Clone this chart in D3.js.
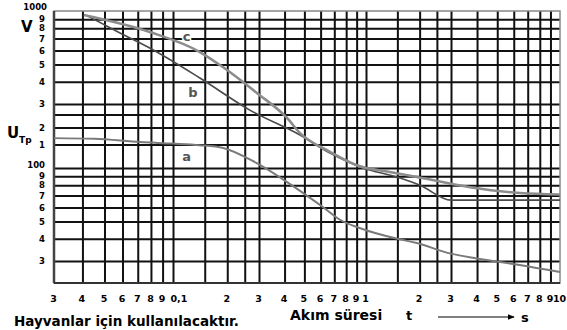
<!DOCTYPE html>
<html>
<head>
<meta charset="utf-8">
<script src="https://cdn.jsdelivr.net/npm/d3@7"></script>
<style>
  body { margin: 0; background: #fff; }
  text { font-family: "DejaVu Sans", sans-serif; font-weight: bold; }
  .name { paint-order: stroke; stroke: #fff; stroke-width: 3px; }
</style>
</head>
<body>
<div id="chart"></div>
<script>
// the printed grid is a slightly stretched log grid, so the scales are piecewise log
var xBreaks = [0.03, 0.1, 0.3, 1, 3, 10];
var yBreaks = [1000, 300, 100, 30];

var xGrid = [0.04, 0.05, 0.06, 0.07, 0.08, 0.09, 0.1, 0.15, 0.2, 0.25, 0.3, 0.4, 0.5, 0.6, 0.7, 0.8, 0.9,
             1, 1.5, 2, 2.5, 3, 4, 5, 6, 7, 8, 9];
var yGrid = [900, 800, 700, 600, 500, 400, 300, 250, 200, 150, 100, 90, 80, 70, 60, 50, 40, 30];

var xTicks = [0.03, 0.04, 0.05, 0.06, 0.07, 0.08, 0.09, 0.1, 0.2, 0.3, 0.4, 0.5, 0.6, 0.7, 0.8, 0.9,
              1, 2, 3, 4, 5, 6, 7, 8, 9, 10];
var xTickLabels = ["3", "4", "5", "6", "7", "8", "9", "0,1", "2", "3", "4", "5", "6", "7", "8", "9",
                   "1", "2", "3", "4", "5", "6", "7", "8", "9", "10"];
var yTicks = [1000, 900, 800, 700, 600, 500, 400, 300, 200, 150, 100, 90, 80, 70, 60, 50, 40, 30];
var yTickLabels = ["1000", "9", "8", "7", "6", "5", "4", "3", "2", "1", "100", "9", "8", "7", "6", "5", "4", "3"];

// curves: time (s) and touch voltage (V)
var aTime = [0.03, 0.045, 0.072, 0.1, 0.14, 0.19, 0.29, 0.42, 0.62, 0.75, 0.93, 1.5, 1.9, 3, 4, 6.4, 10];
var aVolt = [167, 165, 156, 152, 148, 141, 109, 82, 60, 51, 46, 40, 38, 33, 31, 28.5, 26];
var bTime = [0.042, 0.0585, 0.079, 0.141, 0.267, 0.476, 0.667, 0.967, 1.49, 2.01, 3, 10];
var bVolt = [940, 752, 619, 420, 270, 176, 129, 100, 89, 80, 66, 66];
var cTime = [0.0406, 0.079, 0.141, 0.189, 0.292, 0.411, 0.476, 0.667, 0.9, 1.36, 1.93, 3.7, 6.43, 10];
var cVolt = [950, 762, 588, 484, 346, 236, 182, 132, 105, 95, 89, 78, 72.3, 71];

var W = 567, H = 330;
var pLeft = 54, pRight = 560, pTop = 11, pBottom = 283;

var svg = d3.select("#chart").append("svg").attr("width", W).attr("height", H);

var x = d3.scaleLog().domain(xBreaks).range([54, 173, 259, 366, 451, 560]);
var y = d3.scaleLog().domain(yBreaks).range([11, 104, 168, 261]);

// grid
svg.append("g")
  .attr("transform", "translate(0," + pBottom + ")")
  .call(d3.axisBottom(x).tickValues(xGrid).tickSize(-(pBottom - pTop)).tickFormat(""))
  .call(function (g) { g.select(".domain").remove(); })
  .selectAll("line").attr("stroke", "#111").attr("stroke-width", 2);

svg.append("g")
  .attr("transform", "translate(" + pLeft + ",0)")
  .call(d3.axisLeft(y).tickValues(yGrid).tickSize(-(pRight - pLeft)).tickFormat(""))
  .call(function (g) { g.select(".domain").remove(); })
  .selectAll("line").attr("stroke", "#111").attr("stroke-width", 2);

// frame
svg.append("rect").attr("x", pLeft).attr("y", pTop).attr("width", pRight - pLeft).attr("height", pBottom - pTop)
  .attr("fill", "none").attr("stroke", "#888").attr("stroke-width", 1.5);
svg.append("line").attr("x1", pLeft).attr("x2", pLeft).attr("y1", pTop).attr("y2", pBottom)
  .attr("stroke", "#444").attr("stroke-width", 2.5);
svg.append("line").attr("x1", pLeft).attr("x2", pRight).attr("y1", pBottom).attr("y2", pBottom)
  .attr("stroke", "#333").attr("stroke-width", 2);

// tick labels
var xAxis = svg.append("g")
  .attr("transform", "translate(-1," + pBottom + ")")
  .call(d3.axisBottom(x).tickValues(xTicks).tickSize(0).tickPadding(12)
    .tickFormat(function (d, i) { return xTickLabels[i]; }));
xAxis.select(".domain").remove();
xAxis.selectAll("text").style("font-size", "9.5px").attr("fill", "#000")
  .attr("text-anchor", function (d, i) { return xTickLabels[i] == "0,1" ? "start" : "middle"; })
  .attr("dx", function (d, i) { return xTickLabels[i] == "0,1" ? "-2" : "0"; });

var yAxis = svg.append("g")
  .attr("transform", "translate(" + pLeft + ",0)")
  .call(d3.axisLeft(y).tickValues(yTicks).tickSize(0).tickPadding(9)
    .tickFormat(function (d, i) { return yTickLabels[i]; }));
yAxis.select(".domain").remove();
yAxis.selectAll("text").style("font-size", "8.5px").attr("fill", "#000");
yAxis.selectAll(".tick").filter(function (d) { return d == 1000; }).select("text").attr("dy", "-0.2em").attr("x", -7);
yAxis.selectAll(".tick").filter(function (d) { return d == 100; }).select("text").attr("dy", "-0.1em");

// curves
var line = d3.line()
  .x(function (d) { return x(d[0]); })
  .y(function (d) { return y(d[1]); })
  .curve(d3.curveMonotoneX);

function pairs(t, v) { return t.map(function (d, i) { return [d, v[i]]; }); }

svg.append("path").datum(pairs(aTime, aVolt)).attr("d", line)
  .attr("fill", "none").attr("stroke", "#7a7a7a").attr("stroke-width", 2);
svg.append("path").datum(pairs(bTime, bVolt)).attr("d", line)
  .attr("fill", "none").attr("stroke", "#4a4a4a").attr("stroke-width", 1.6);
svg.append("path").datum(pairs(cTime, cVolt)).attr("d", line)
  .attr("fill", "none").attr("stroke", "#8c8c8c").attr("stroke-width", 2.6);

// curve names
svg.append("text").attr("class", "name").attr("x", x(0.119)).attr("y", y(720)).attr("dy", "0.35em").attr("text-anchor", "middle")
  .style("font-size", "13px").attr("fill", "#555").text("c");
svg.append("text").attr("class", "name").attr("x", x(0.129)).attr("y", y(350)).attr("dy", "0.35em").attr("text-anchor", "middle")
  .style("font-size", "13px").attr("fill", "#555").text("b");
svg.append("text").attr("class", "name").attr("x", x(0.119)).attr("y", y(121)).attr("dy", "0.35em").attr("text-anchor", "middle")
  .style("font-size", "13px").attr("fill", "#555").text("a");

// axis titles
svg.append("text").attr("x", 21).attr("y", 32).style("font-size", "15px").text("V");
svg.append("text").attr("x", 7).attr("y", 138).style("font-size", "15px").text("U");
svg.append("text").attr("x", 19).attr("y", 143).style("font-size", "9px").text("Tp");

svg.append("text").attr("x", 290).attr("y", 320).style("font-size", "14px").text("Akım süresi");
svg.append("text").attr("x", 406).attr("y", 320).style("font-size", "13px").text("t");
svg.append("defs").append("marker").attr("id", "arr").attr("viewBox", "0 0 10 10")
  .attr("refX", 9).attr("refY", 5).attr("markerWidth", 6).attr("markerHeight", 6).attr("orient", "auto")
  .append("path").attr("d", "M0,1 L10,5 L0,9 Z").attr("fill", "#000");
svg.append("line").attr("x1", 438).attr("x2", 514).attr("y1", 317).attr("y2", 317)
  .attr("stroke", "#000").attr("stroke-width", 1.2).attr("marker-end", "url(#arr)");
svg.append("text").attr("x", 521).attr("y", 322).style("font-size", "13px").text("s");

svg.append("text").attr("x", 14).attr("y", 326).style("font-size", "13.5px").text("Hayvanlar için kullanılacaktır.");
</script>
</body>
</html>
